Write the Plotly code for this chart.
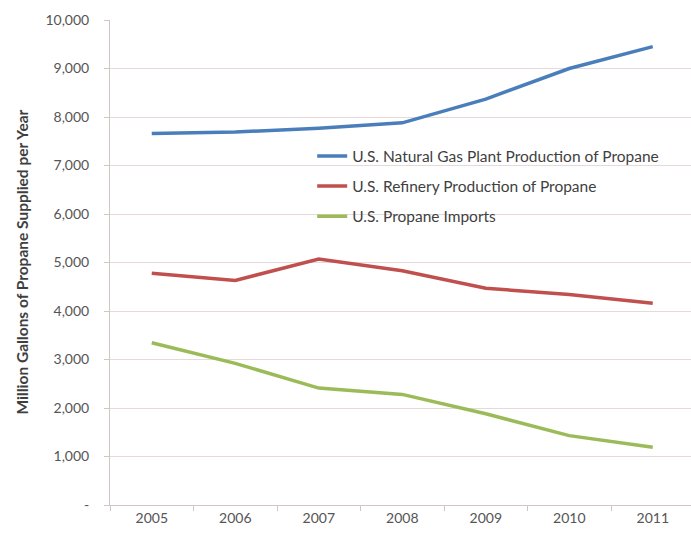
import plotly.graph_objects as go

# Annual propane supply by source (million gallons)
years = ["2005", "2006", "2007", "2008", "2009", "2010", "2011"]
gas_plant = [7660, 7690, 7770, 7880, 8370, 9000, 9450]
refinery = [4780, 4630, 5070, 4830, 4470, 4340, 4160]
imports = [3345, 2920, 2410, 2280, 1880, 1430, 1190]

series_names = [
    "U.S. Natural Gas Plant Production of Propane",
    "U.S. Refinery Production of Propane",
    "U.S. Propane Imports",
]
series_colors = ["#4a7ebb", "#c0504d", "#9bbb59"]

y_tick_vals = [0, 1000, 2000, 3000, 4000, 5000, 6000, 7000, 8000, 9000, 10000]
y_tick_text = ["-", "1,000", "2,000", "3,000", "4,000", "5,000",
               "6,000", "7,000", "8,000", "9,000", "10,000"]

y_title = "Million Gallons of Propane Supplied per Year"

font_family = "Lato, Open Sans, sans-serif"
text_color = "#555555"
grid_color = "#e6d9d9"
axis_color = "#d6c3c3"

fig = go.Figure()
for name, vals, color in zip(series_names, [gas_plant, refinery, imports], series_colors):
    fig.add_trace(go.Scatter(
        x=years, y=vals, name=name, mode="lines",
        line=dict(color=color, width=3.5),
        legendgroup=name,
    ))

fig.update_layout(
    width=691, height=538,
    margin=dict(l=110, r=0, t=20, b=33),
    paper_bgcolor="white", plot_bgcolor="white",
    font=dict(family=font_family, size=14, color=text_color),
    showlegend=True,
    legend=dict(
        x=0.348, y=0.754, xanchor="left", yanchor="top",
        bgcolor="rgba(0,0,0,0)",
        font=dict(size=15.5, color="#3f3f3f"),
        tracegroupgap=7,
    ),
)

fig.update_xaxes(
    type="category",
    range=[-0.5, 6.458],
    showgrid=False,
    showline=True, linecolor=axis_color, linewidth=1,
    ticks="outside", tickson="boundaries", ticklen=5, tickcolor=axis_color,
    tickfont=dict(size=14, color=text_color),
)

fig.update_yaxes(
    range=[0, 10000],
    tickvals=y_tick_vals, ticktext=y_tick_text,
    showgrid=True, gridcolor=grid_color, gridwidth=1,
    showline=True, linecolor=axis_color, linewidth=1,
    ticks="outside", ticklen=5, tickcolor=axis_color,
    ticklabelstandoff=12,
    tickfont=dict(size=14, color=text_color),
    zeroline=False,
)

fig.add_annotation(
    text="<b>" + y_title + "</b>",
    xref="paper", yref="paper",
    x=-0.153, y=0.5, xanchor="center", yanchor="middle",
    textangle=-90, showarrow=False,
    font=dict(size=15.5, color="#3f3f3f", family=font_family),
)

fig.write_html("out.html")
